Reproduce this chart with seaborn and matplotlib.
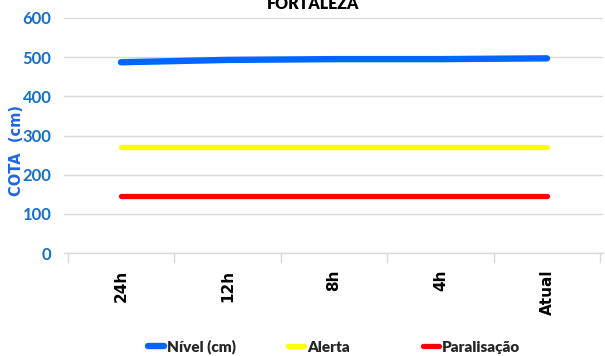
import matplotlib
matplotlib.use("Agg")
import matplotlib.pyplot as plt
import seaborn as sns
import pandas as pd
from matplotlib.ticker import FixedLocator

# Data
periodos = ["24h", "12h", "8h", "4h", "Atual"]
nivel = [487, 493, 495, 495, 497]
alerta = [270, 270, 270, 270, 270]
paralisacao = [145, 145, 145, 145, 145]

series = {"Nível (cm)": nivel, "Alerta": alerta, "Paralisação": paralisacao}
cores = {"Nível (cm)": "#0066FF", "Alerta": "#FFFF00", "Paralisação": "#FF0000"}
larguras = {"Nível (cm)": 4.6, "Alerta": 3.8, "Paralisação": 3.8}

rows = []
for nome, vals in series.items():
    for i, (p, v) in enumerate(zip(periodos, vals)):
        rows.append({"pos": i, "periodo": p, "cota": v, "serie": nome})
df = pd.DataFrame(rows)

sns.set_theme(style="white")
plt.rcParams["font.family"] = ["Lato", "DejaVu Sans"]

fig = plt.figure(figsize=(6.05, 3.56), dpi=100)
ax = fig.add_axes([64 / 605, 1 - 253 / 356, (603 - 64) / 605, (253 - 18) / 356])

ax.set_ylim(0, 600)
ax.set_xlim(-0.535, 4.526)
ax.yaxis.set_major_locator(FixedLocator([0, 100, 200, 300, 400, 500, 600]))
ax.grid(axis="y", color="#D9D9D9", linewidth=1.0)
ax.set_axisbelow(True)

sns.lineplot(data=df, x="pos", y="cota", hue="serie", palette=cores,
             hue_order=list(series.keys()), legend=False, ax=ax)
for line, nome in zip(ax.get_lines(), series.keys()):
    line.set_linewidth(larguras[nome])
    line.set_solid_capstyle("round")

for s in ["top", "right", "left"]:
    ax.spines[s].set_visible(False)
ax.spines["bottom"].set_color("#D9D9D9")
ax.spines["bottom"].set_linewidth(1.0)

# category separators below the axis
ax.set_xticks([i - 0.5 for i in range(len(periodos) + 1)], minor=False)
ax.set_xticklabels([])
ax.tick_params(axis="x", which="major", length=7, width=1.0, color="#D9D9D9",
               direction="out", bottom=True)
ax.set_xticks(range(len(periodos)), minor=True)
ax.set_xticklabels(periodos, minor=True, rotation=90, fontsize=11,
                   fontweight="bold", color="black", family=["DejaVu Sans"])
ax.tick_params(axis="x", which="minor", length=0, pad=12)
for lbl in ax.get_xticklabels(minor=True):
    lbl.set_verticalalignment("top")

ax.tick_params(axis="y", length=0, pad=9, labelsize=12, labelcolor="#1570C8")
for lbl in ax.get_yticklabels():
    lbl.set_fontweight("bold")

ax.set_xlabel("")
ax.set_ylabel("COTA  (cm)", color="#1E64E6", fontsize=10.5, fontweight="bold",
              family=["DejaVu Sans"])
ax.yaxis.set_label_coords(-0.074, (253 - 150) / 235)

fig.text(313 / 605, 0.988, "FORTALEZA", ha="center", va="center", fontsize=11.5,
         fontweight="heavy", color="black")

# legend entries laid out along the bottom
anchors = [148, 288, 423]
for nome, x0 in zip(series.keys(), anchors):
    h = plt.Line2D([], [], color=cores[nome], linewidth=larguras[nome],
                   solid_capstyle="round")
    leg = fig.legend([h], [nome], loc="center left",
                     bbox_to_anchor=(x0 / 605, 1 - 347 / 356), frameon=False,
                     fontsize=11, handlelength=1.05, handletextpad=0.2,
                     borderpad=0, borderaxespad=0)
    for t in leg.get_texts():
        t.set_fontweight("heavy")

fig.savefig("out.png", dpi=100)
